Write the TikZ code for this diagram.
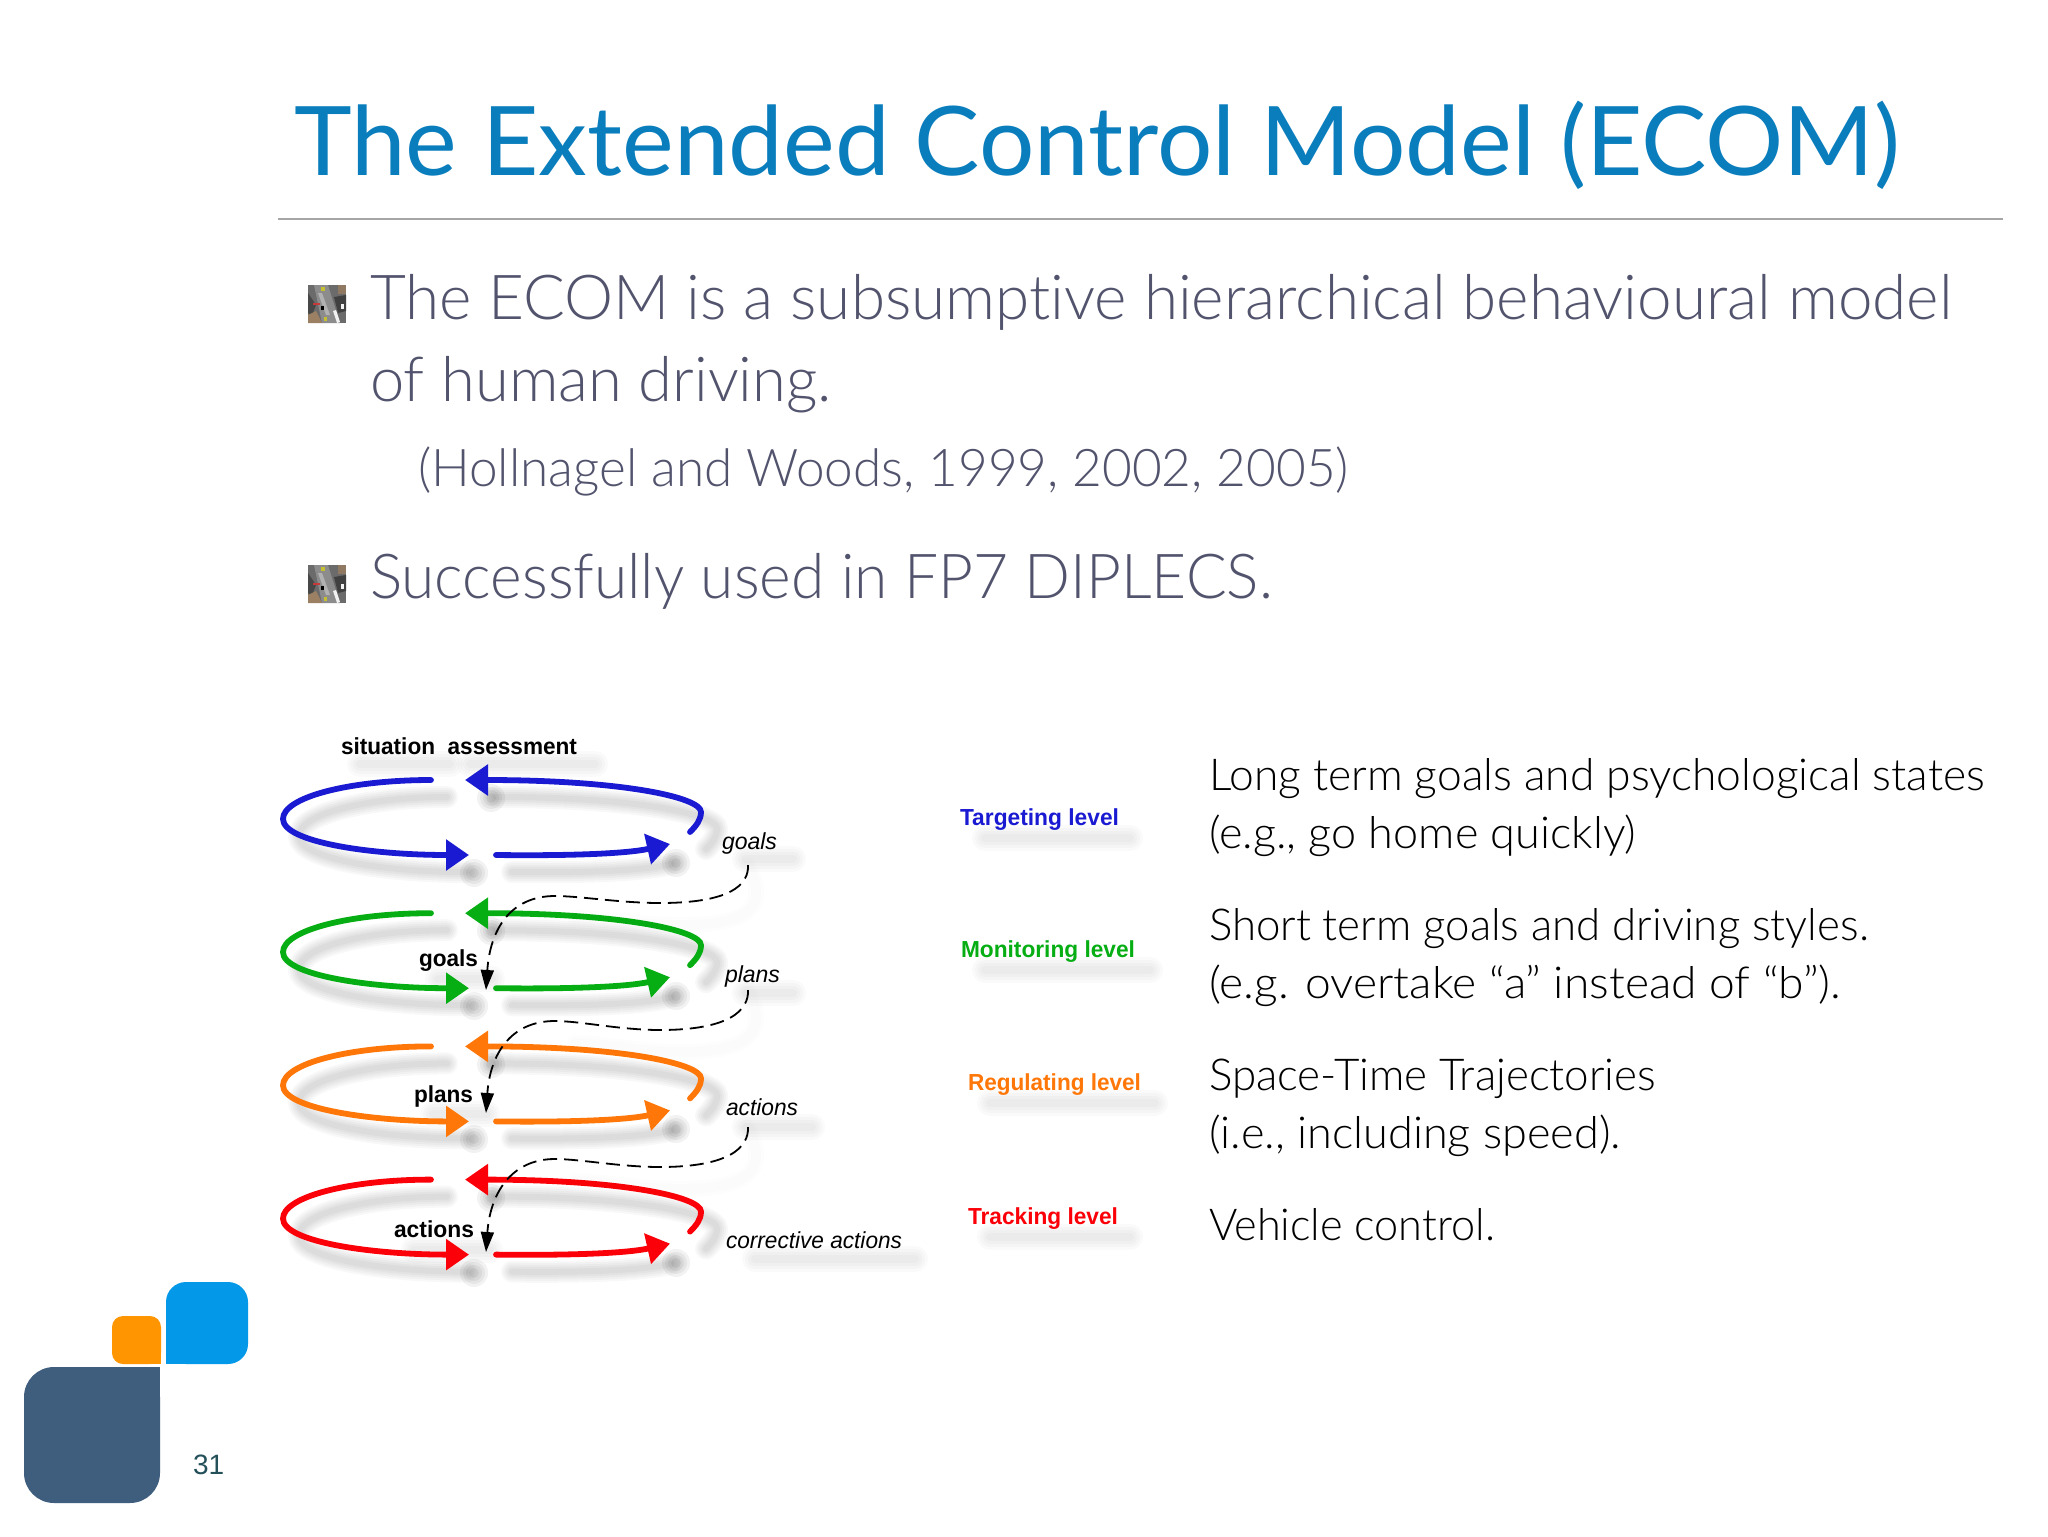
\documentclass[tikz,border=0pt]{standalone}
\usepackage{fontspec}
\usepackage{graphicx}
\usetikzlibrary{arrows.meta}
\setmainfont{Lato}[Ligatures=NoCommon]
\newfontfamily\lightfont{Lato Light}[Ligatures=NoCommon]
\newfontfamily\hv{Liberation Sans}
\definecolor{titleblue}{HTML}{0A7DBD}
\definecolor{bodygrey}{HTML}{52536D}
\definecolor{lblue}{HTML}{1A1AD2}
\definecolor{lgreen}{HTML}{06AE14}
\definecolor{lorange}{HTML}{FF7708}
\definecolor{lred}{HTML}{FB0008}
\definecolor{logodark}{HTML}{3F5D7D}
\definecolor{logoorange}{HTML}{FF9500}
\definecolor{logoblue}{HTML}{0499E8}
\definecolor{pagenum}{HTML}{24505A}
\definecolor{textdark}{HTML}{000000}
\newcommand{\fit}[2]{\resizebox{#1pt}{\height}{#2}}
\newcommand{\softline}[1]{%
  \foreach \w in {11,9,7,5,3}{%
    \draw[black,line width=\w pt,opacity=.028,line cap=round] #1;}}
\newcommand{\softtext}[1]{%
  \foreach \w in {13,10,7,4}{%
    \draw[black,line width=\w pt,opacity=.02,line cap=round] #1;}}
\newcommand{\softdash}[1]{%
  \foreach \w in {8,5}{%
    \draw[black,line width=\w pt,opacity=.008,line cap=round] #1;}}
\newcommand{\softblob}[2]{%
  \foreach \w in {14,11,8,5}{%
    \draw[black,line width=\w pt,opacity=.05,line cap=round] (#1,#2) -- ++(0.1,0);}}
\newcommand{\ecomloop}[1]{%
  \begin{scope}[xshift=8pt,yshift=-8.5pt]
    \softline{(431,780) .. controls (350,780) and (283,797) .. (283,819) .. controls (283,842) and (370,855) .. (450,855)}
    \softline{(496,855) .. controls (580,856) and (630,853) .. (655,847)}
    \softline{(690,832) .. controls (696,826) and (701,820) .. (701,812) .. controls (701,797) and (620,780) .. (480,780)}
    \softblob{458}{856}\softblob{660}{846}\softblob{475}{781}
  \end{scope}
  \draw[#1,loopline] (431,780) .. controls (350,780) and (283,797) .. (283,819) .. controls (283,842) and (370,855) .. (469,855);
  \draw[#1,loopline] (496,855) .. controls (580,856) and (630,853) .. (670,844);
  \draw[#1,loopline] (690,832) .. controls (696,826) and (701,820) .. (701,812) .. controls (701,797) and (620,780) .. (465,780);
}
\newcommand{\roadicon}[2]{%
  \begin{scope}[shift={(#1,#2)}]
    \fill[black!58] (0,0) rectangle (38,38);
    \fill[black!45] (6,0) -- (20,0) -- (32,38) -- (14,38) -- cycle;
    \fill[black!72] (0,8) -- (8,20) -- (4,30) -- (0,28) -- cycle;
    \fill[black!30] (10,8) -- (14,8) -- (22,30) -- (18,30) -- cycle;
    \fill[black!75] (26,12) -- (38,10) -- (38,26) -- (30,28) -- cycle;
    \fill[brown!45!gray] (0,30) -- (8,26) -- (14,38) -- (0,38) -- cycle;
    \fill[brown!50!black!70] (30,0) rectangle (38,9);
    \fill[yellow!75!black] (13,2) rectangle (17,6);
    \fill[yellow!75!black] (16,32) rectangle (19,36);
    \fill[black!5] (25,26) -- (28,25) -- (32,37) -- (29,38) -- cycle;
    \fill[black!5] (33,19) rectangle (36,24);
    \fill[red!55!gray] (5,18) rectangle (12,20);
    \fill[black] (13,21) rectangle (16,25);
  \end{scope}}
\tikzset{
  x=0.5pt,y=-0.5pt,
  loopline/.style={line width=2.9pt,line cap=round,-{Triangle[length=11.5pt,width=15pt]}},
  lbl/.style={anchor=base west,inner sep=0pt,outer sep=0pt},
  titletext/.style={lbl,text=titleblue,font=\fontsize{48}{48}\selectfont},
  bigtext/.style={lbl,text=bodygrey,font=\lightfont\fontsize{31}{31}\selectfont},
  midtext/.style={lbl,text=bodygrey,font=\lightfont\fontsize{26}{26}\selectfont},
  righttext/.style={lbl,text=textdark,font=\lightfont\fontsize{22}{22}\selectfont},
  hbold/.style={lbl,text=black,font=\hv\bfseries\fontsize{11.6}{11.6}\selectfont},
  hital/.style={lbl,text=black,font=\hv\itshape\fontsize{11.6}{11.6}\selectfont},
  dashline/.style={black,line width=0.9pt,dash pattern=on 7pt off 3.5pt,-{Triangle[length=10pt,width=6.5pt]}},
}
\begin{document}
\begin{tikzpicture}
\useasboundingbox (0,0) rectangle (2048,1536);
\fill[white] (0,0) rectangle (2048,1536);

% header
\node[titletext] (title) at (294,176) {\fit{803}{The Extended Control Model (ECOM)}};
\draw[gray!70,line width=0.7pt] (278,219) -- (2003,219);

% bullets
\roadicon{308}{285}
\roadicon{308}{565}
\node[bigtext] (b1) at (370,319) {\fit{791}{The ECOM is a subsumptive hierarchical behavioural model}};
\node[bigtext] (b1b) at (370,401) {\fit{231}{of human driving.}};
\node[midtext] (b1c) at (418,486) {\fit{465.5}{(Hollnagel and Woods, 1999, 2002, 2005)}};
\node[bigtext] (b2) at (370,598) {\fit{451.5}{Successfully used in FP7 DIPLECS.}};

% text shadows
\softtext{(360,764) -- (450,764)}
\softtext{(470,764) -- (595,764)}
\softtext{(745,859) -- (793,859)}
\softtext{(745,993) -- (793,993)}
\softtext{(745,1127) -- (812,1127)}
\softtext{(755,1259) -- (915,1259)}
\softtext{(985,838) -- (1130,838)}
\softtext{(985,970) -- (1150,970)}
\softtext{(990,1103) -- (1155,1103)}
\softtext{(990,1237) -- (1130,1237)}
\softtext{(438,979) -- (492,979)}
\softtext{(433,1114) -- (487,1114)}
\softtext{(414,1250) -- (490,1250)}

% loops
\ecomloop{lblue}
\begin{scope}[shift={(0,133.2)}]\ecomloop{lgreen}\end{scope}
\begin{scope}[shift={(0,266.4)}]\ecomloop{lorange}\end{scope}
\begin{scope}[shift={(0,399.6)}]\ecomloop{lred}\end{scope}

% diagram labels
\node[hbold] (sa) at (341,754) {\fit{118}{situation\ \ assessment}};
\node[hital] (igoals) at (722,849) {\fit{27.5}{goals}};
\node[hital] (iplans) at (725,982) {\fit{27.5}{plans}};
\node[hital] (iactions) at (726,1115) {\fit{36}{actions}};
\node[hital] (icorr) at (726,1248) {\fit{88}{corrective actions}};
\node[hbold] (bgoals) at (419,966) {\fit{29.5}{goals}};
\node[hbold] (bplans) at (414,1102) {\fit{29.5}{plans}};
\node[hbold] (bactions) at (394,1237) {\fit{40}{actions}};

% dashed connectors
\coordinate (t1) at (486,990);
\coordinate (t2) at (486,1113);
\coordinate (t3) at (486,1252);
\coordinate (s1) at (748,865);
\coordinate (s2) at (748,990);
\coordinate (s3) at (748,1127);
\begin{scope}[xshift=10pt,yshift=-11pt]
\softdash{(s1) .. controls (749,885) and (730,903) .. (660,903) .. controls (620,903) and (580,896) .. (555,896)}
\softdash{(s2) .. controls (749,1010) and (730,1030) .. (660,1030) .. controls (620,1030) and (580,1021) .. (555,1021)}
\softdash{(s3) .. controls (749,1147) and (730,1167) .. (660,1167) .. controls (620,1167) and (580,1159) .. (555,1159)}
\end{scope}
\draw[dashline] (s1) .. controls (749,885) and (730,903) .. (660,903)
  .. controls (620,903) and (580,896) .. (555,896)
  .. controls (510,896) and (490,930) .. (t1);
\draw[dashline] (s2) .. controls (749,1010) and (730,1030) .. (660,1030)
  .. controls (620,1030) and (580,1021) .. (555,1021)
  .. controls (510,1021) and (490,1055) .. (t2);
\draw[dashline] (s3) .. controls (749,1147) and (730,1167) .. (660,1167)
  .. controls (620,1167) and (580,1159) .. (555,1159)
  .. controls (510,1159) and (490,1195) .. (t3);

% level labels
\node[hbold,text=lblue] (l1) at (960,825) {\fit{79.5}{Targeting level}};
\node[hbold,text=lgreen] (l2) at (961,957) {\fit{87}{Monitoring level}};
\node[hbold,text=lorange] (l3) at (968,1090) {\fit{86.5}{Regulating level}};
\node[hbold,text=lred] (l4) at (968,1224) {\fit{75}{Tracking level}};

% right text
\node[righttext] (r1) at (1209,790) {\fit{388}{Long term goals and psychological states}};
\node[righttext] (r2) at (1209,848) {\fit{213.5}{(e.g., go home quickly)}};
\node[righttext] (r3) at (1209,940) {\fit{330}{Short term goals and driving styles.}};
\node[righttext] (r4) at (1209,998) {\fit{316}{(e.g. overtake “a” instead of “b”).}};
\node[righttext] (r5) at (1209,1090) {\fit{223.5}{Space-Time Trajectories}};
\node[righttext] (r6) at (1209,1148) {\fit{206}{(i.e., including speed).}};
\node[righttext] (r7) at (1209,1240) {\fit{143}{Vehicle control.}};

% logo
\fill[logodark,rounded corners=15pt] (24,1367) rectangle (160,1503);
\fill[logodark] (110,1367) rectangle (160,1420);
\fill[logoorange,rounded corners=5.5pt] (112,1316) rectangle (161,1364);
\fill[logoorange] (140,1340) rectangle (161,1364);
\fill[logoblue,rounded corners=10pt] (166,1282) rectangle (248,1364);
\fill[logoblue] (166,1330) rectangle (200,1364);
\node[lbl,text=pagenum,font=\hv\fontsize{14}{14}\selectfont] (page) at (193,1474) {31};
\end{tikzpicture}
\end{document}
